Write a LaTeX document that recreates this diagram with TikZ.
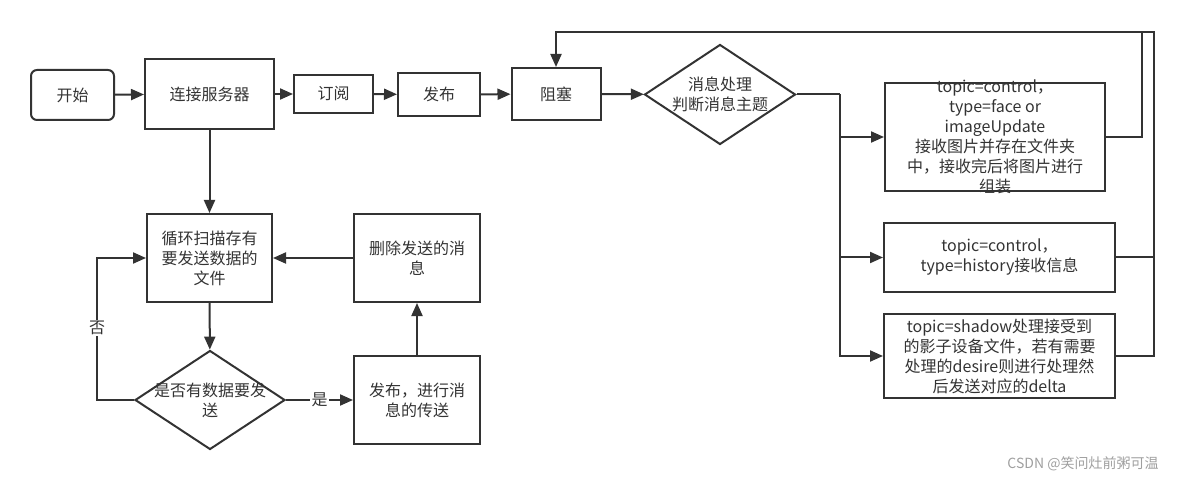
\documentclass[tikz,border=0pt]{standalone}
\usepackage{fontspec}
\setmainfont{Noto Sans CJK SC}
\usetikzlibrary{arrows.meta,shapes.geometric,positioning}
\definecolor{ink}{HTML}{333333}
\tikzset{
  box/.style={draw=ink, line width=2pt, text=ink, inner sep=0pt, align=center},
  dia/.style={draw=ink, line width=2pt, text=ink, diamond, inner sep=0pt,
              minimum width=151pt, minimum height=100pt},
  txt/.style={text=ink, align=center, inner sep=0pt},
  line/.style={draw=ink, line width=2pt},
  arr/.style={line, -{Triangle[length=13pt,width=11pt]}},
  lbl/.style={fill=white, text=ink, inner sep=1.5pt}
}
\begin{document}
\begin{tikzpicture}[x=1pt, y=-1pt, font=\fontsize{16pt}{20pt}\selectfont]
\useasboundingbox (0,0) rectangle (1184,481);

% top row
\node[box, rounded corners=6pt, minimum width=83pt, minimum height=50pt] (start) at (72.5,95) {开始};
\node[box, minimum width=129pt, minimum height=70pt] (conn) at (209.5,94) {连接服务器};
\node[box, minimum width=79pt, minimum height=38pt] (sub) at (333.5,94) {订阅};
\node[box, minimum width=82pt, minimum height=43pt] (pub) at (439,94.5) {发布};
\node[box, minimum width=89pt, minimum height=52pt] (block) at (556,94) {阻塞};
\node[dia, label={[txt]center:消息处理\\判断消息主题}] (dec) at (720,94.5) {};

% topic branches
\node[box, minimum width=220pt, minimum height=108pt,
      label={[txt]center:topic=control，\\type=face or\\imageUpdate\\接收图片并存在文件夹\\中，接收完后将图片进行\\组装}] (img) at (995,137) {};
\node[box, minimum width=231pt, minimum height=69pt] (hist) at (999.5,257.5) {topic=control，\\type=history接收信息};
\node[box, minimum width=231pt, minimum height=84pt] (shadow) at (999.5,356) {topic=shadow处理接受到\\的影子设备文件，若有需要\\处理的desire则进行处理然\\后发送对应的delta};

% sending loop
\node[box, minimum width=125pt, minimum height=88pt] (scan) at (209.5,258) {循环扫描存有\\要发送数据的\\文件};
\node[box, minimum width=126pt, minimum height=88pt] (del) at (417,258) {删除发送的消\\息};
\node[dia, minimum width=150pt, minimum height=99pt, label={[txt]center:是否有数据要发\\送}] (chk) at (210,400) {};
\node[box, minimum width=126pt, minimum height=88pt] (send) at (417,400) {发布，进行消\\息的传送};

\coordinate (split) at (840,94.5);
\coordinate (railL) at (1142,32);
\coordinate (railR) at (1154,32);
\coordinate (noTurn) at (97,328);

\draw[arr] (start) -- (conn);
\draw[arr] (conn) -- (sub);
\draw[arr] (sub) -- (pub);
\draw[arr] (pub) -- (block);
\draw[arr] (block) -- (dec);

\draw[line] (dec.east) -- (split);
\draw[arr] (split) |- (img.west);
\draw[arr] (split) |- (hist.west);
\draw[arr] (split) |- (shadow.west);

\draw[line] (img.east) -| (railL);
\draw[line] (hist.east) -- (hist.east -| railR);
\draw[arr] (shadow.east) -| (railR) -| (block.north);

\draw[arr] (conn) -- (scan);
\draw[arr] (scan) -- (chk);
\draw[arr] (chk.west) -| (noTurn) node[lbl] {否} |- (scan.west);
\draw[arr] (chk.east) -- node[lbl] {是} (send.west);
\draw[arr] (send) -- (del);
\draw[arr] (del) -- (scan);

\node[text=gray!75, font=\fontsize{14pt}{16pt}\selectfont] (mark) at (1083,464) {CSDN @笑问灶前粥可温};
\end{tikzpicture}
\end{document}
